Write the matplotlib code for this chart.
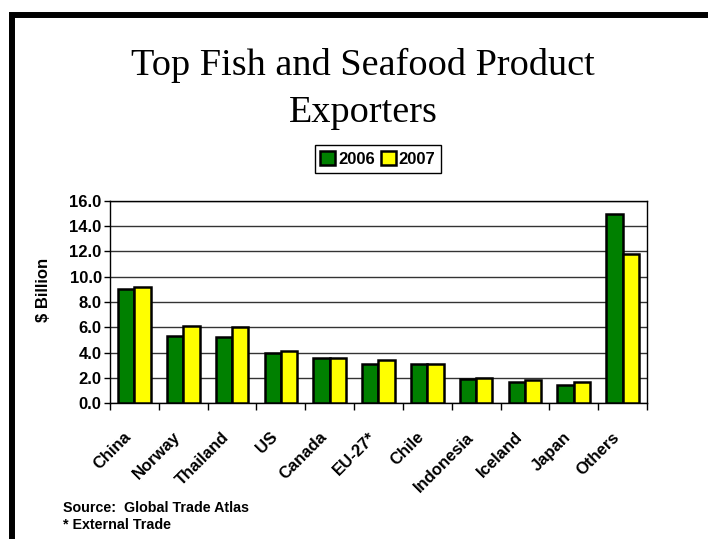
import numpy as np
import matplotlib.pyplot as plt
from matplotlib.patches import Rectangle

# data ($ billion)
countries = ['China', 'Norway', 'Thailand', 'US', 'Canada', 'EU-27*', 'Chile',
             'Indonesia', 'Iceland', 'Japan', 'Others']
exp2006 = [9.0, 5.3, 5.2, 4.0, 3.6, 3.1, 3.1, 1.9, 1.7, 1.4, 15.0]
exp2007 = [9.2, 6.1, 6.0, 4.1, 3.6, 3.4, 3.1, 2.0, 1.8, 1.7, 11.8]
yticks = [0, 2, 4, 6, 8, 10, 12, 14, 16]

title = 'Top Fish and Seafood Product\nExporters'
sans = 'Liberation Sans'
serif = 'Liberation Serif'

fig = plt.figure(figsize=(7.08, 5.39), dpi=100)
ax = fig.add_axes([0.1554, 0.2523, 0.7584, 0.3748])

x = np.arange(len(countries))
w = 0.335
ax.bar(x - w / 2, exp2006, w, color='#008000', edgecolor='black', linewidth=1.8,
       label='2006', zorder=3)
ax.bar(x + w / 2, exp2007, w, color='#ffff00', edgecolor='black', linewidth=1.8,
       label='2007', zorder=3)

ax.set_xlim(-0.5, len(countries) - 0.5)
ax.set_ylim(0, 16)
ax.set_yticks(yticks)
ax.set_yticklabels(['%.1f' % v for v in yticks], fontsize=12, fontweight='bold',
                   family=sans)
ax.yaxis.grid(True, color='#333333', linewidth=1.0, zorder=0)
ax.set_axisbelow(True)
ax.tick_params(axis='y', direction='out', length=4, width=1, pad=2)

# category labels at the centres, ticks at the boundaries
ax.set_xticks(x)
ax.set_xticklabels(countries, rotation=45, ha='right', va='top', fontsize=12,
                   fontweight='bold', family=sans)
ax.set_xticks(np.arange(len(countries) + 1) - 0.5, minor=True)
ax.tick_params(axis='x', which='major', length=0, pad=19)
ax.tick_params(axis='x', which='minor', direction='out', length=5, width=1)

for s in ax.spines.values():
    s.set_color('black')
    s.set_linewidth(1.0)

fig.text(43 / 708, 1 - 290 / 539, '$ Billion', rotation=90, ha='center',
         va='center', fontsize=12, fontweight='bold', family=sans)

lines = title.split('\n')
fig.text(363 / 708, 1 - 75 / 539, lines[0], ha='center', va='baseline',
         fontsize=27.5, family=serif)
fig.text(363 / 708, 1 - 122 / 539, lines[1], ha='center', va='baseline',
         fontsize=27.5, family=serif)

leg = fig.legend(loc='center', bbox_to_anchor=(378 / 708, 1 - 159 / 539), ncol=2,
                 prop={'family': sans, 'weight': 'bold', 'size': 12},
                 handlelength=0.9, handleheight=0.9, handletextpad=0.15,
                 columnspacing=0.4, borderpad=0.35, fancybox=False,
                 edgecolor='black', framealpha=1)
leg.get_frame().set_linewidth(1.0)

fig.text(63 / 708, 1 - 512 / 539, 'Source:  Global Trade Atlas', fontsize=10.3,
         fontweight='bold', family=sans, va='baseline')
fig.text(63 / 708, 1 - 529 / 539, '* External Trade', fontsize=10.3,
         fontweight='bold', family=sans, va='baseline')

# black slide frame (only top and left edges are visible)
fig.patches.append(Rectangle((12 / 708, -0.2), 1.2, 1.2 - 14.5 / 539,
                             transform=fig.transFigure, fill=False,
                             edgecolor='black', linewidth=4.3, clip_on=False))

fig.savefig('out.png', dpi=100)
